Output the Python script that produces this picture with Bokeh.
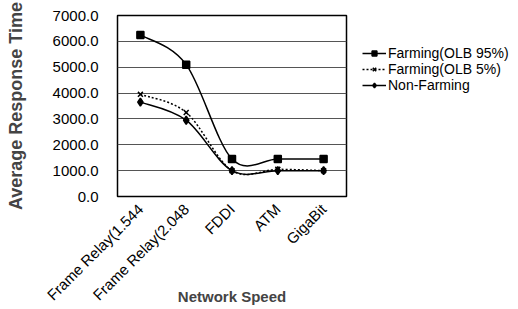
import math
from bokeh.plotting import figure
from bokeh.models import (Range1d, FixedTicker, NumeralTickFormatter, Legend, LegendItem,
                          ColumnDataSource)
from bokeh.embed import file_html
from bokeh.resources import INLINE

categories = ["Frame Relay(1.544", "Frame Relay(2.048", "FDDI", "ATM", "GigaBit"]
farming95 = [6250, 5100, 1450, 1450, 1450]
farming5 = [3950, 3250, 1000, 1050, 1000]
nonfarming = [3650, 2950, 1000, 1000, 1000]
y_ticks = [0, 1000, 2000, 3000, 4000, 5000, 6000, 7000]

FONT = "Liberation Sans"

p = figure(frame_width=229, frame_height=181, output_backend="svg", toolbar_location=None,
           x_range=Range1d(-0.5, len(categories) - 0.5), y_range=Range1d(0, 7000),
           min_border_left=117, min_border_right=5, min_border_top=15, min_border_bottom=5)
p.background_fill_color = "white"
p.border_fill_color = "white"
p.outline_line_color = "black"
p.outline_line_width = 1.5

# axes
p.xaxis.ticker = FixedTicker(ticks=list(range(len(categories))))
p.xaxis.major_label_overrides = {i: c for i, c in enumerate(categories)}
p.xaxis.major_label_orientation = math.pi / 4
p.xaxis.axis_line_color = None
p.xaxis.major_tick_line_color = None
p.xaxis.minor_tick_line_color = None
p.xaxis.major_label_text_font = FONT
p.xaxis.major_label_text_font_size = "15px"
p.xaxis.major_label_text_color = "black"
p.xaxis.major_label_standoff = 4
p.xaxis.axis_label = "Network Speed"
p.xaxis.axis_label_text_font = FONT
p.xaxis.axis_label_text_font_style = "bold"
p.xaxis.axis_label_text_font_size = "15px"
p.xaxis.axis_label_standoff = -24

p.yaxis.ticker = FixedTicker(ticks=y_ticks)
p.yaxis.formatter = NumeralTickFormatter(format="0.0")
p.yaxis.axis_line_color = None
p.yaxis.major_tick_line_color = None
p.yaxis.minor_tick_line_color = None
p.yaxis.major_label_text_font = FONT
p.yaxis.major_label_text_font_size = "15px"
p.yaxis.major_label_text_color = "black"
p.yaxis.major_label_standoff = 13
p.yaxis.axis_label = "Average Response Time"
p.yaxis.axis_label_text_font = FONT
p.yaxis.axis_label_text_font_style = "bold"
p.yaxis.axis_label_text_font_size = "18px"
p.yaxis.axis_label_standoff = 24

p.xgrid.grid_line_color = None
p.ygrid.grid_line_color = "#555555"
p.ygrid.grid_line_width = 1


def smooth_segments(ys):
    xs = list(range(len(ys)))
    n = len(ys)
    d = dict(x0=[], y0=[], x1=[], y1=[], cx0=[], cy0=[], cx1=[], cy1=[])
    for i in range(n - 1):
        im1 = max(i - 1, 0)
        ip2 = min(i + 2, n - 1)
        d["x0"].append(xs[i]); d["y0"].append(ys[i])
        d["x1"].append(xs[i + 1]); d["y1"].append(ys[i + 1])
        d["cx0"].append(xs[i] + (xs[i + 1] - xs[im1]) / 6)
        d["cy0"].append(ys[i] + (ys[i + 1] - ys[im1]) / 6)
        d["cx1"].append(xs[i + 1] - (xs[ip2] - xs[i]) / 6)
        d["cy1"].append(ys[i + 1] - (ys[ip2] - ys[i]) / 6)
    return ColumnDataSource(d)


series = [
    ("Farming(OLB 95%)", farming95, "square", 7, "solid"),
    ("Farming(OLB 5%)", farming5, "x", 7, "2 2"),
    ("Non-Farming", nonfarming, "diamond", 8, "solid"),
]

items = []
xs = list(range(len(categories)))
for label, ys, marker, size, dash in series:
    p.bezier(x0="x0", y0="y0", x1="x1", y1="y1", cx0="cx0", cy0="cy0", cx1="cx1", cy1="cy1",
             source=smooth_segments(ys), line_color="black", line_width=1.5, line_dash=dash)
    sc = p.scatter(xs, ys, marker=marker, size=size, fill_color="black", line_color="black",
                   line_width=1.5)
    leg_line = p.line([float("nan")], [float("nan")], line_color="black", line_width=1.5,
                      line_dash=dash)
    items.append(LegendItem(label=label, renderers=[leg_line, sc]))

legend = Legend(items=items, location=(16, 103), orientation="vertical")
legend.label_text_font = FONT
legend.label_text_font_size = "14px"
legend.label_text_color = "black"
legend.glyph_width = 24
legend.glyph_height = 12
legend.spacing = 0
legend.label_standoff = 2
legend.label_height = 12
legend.padding = 4
legend.margin = 0
legend.border_line_color = None
legend.background_fill_alpha = 0
p.add_layout(legend, "right")

open("out.html", "w").write(file_html(p, INLINE))
